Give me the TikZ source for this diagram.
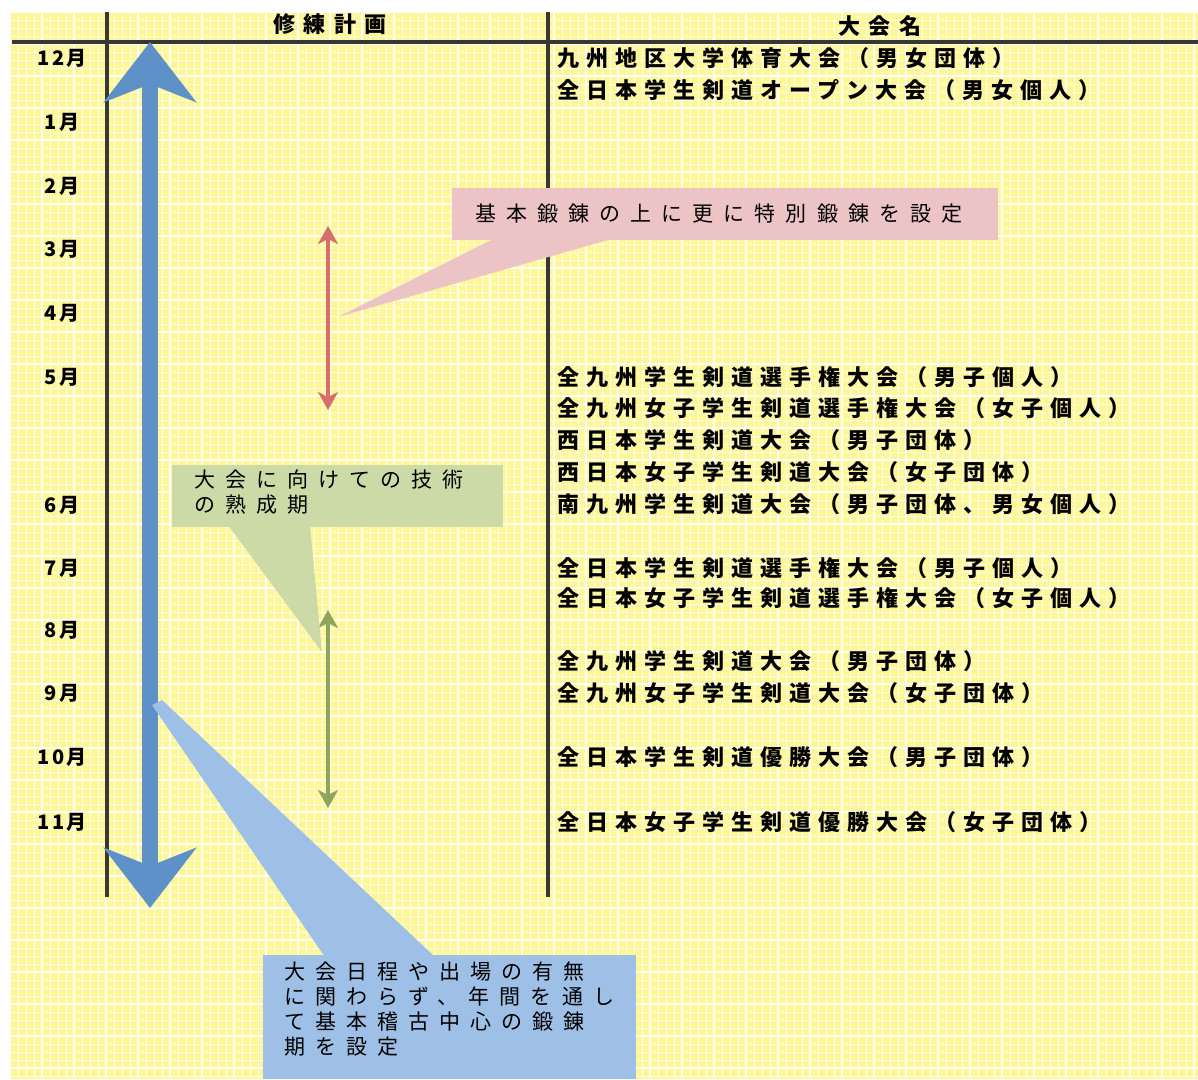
\documentclass[tikz,border=0pt]{standalone}
\usepackage{fontspec}
\setmainfont{Noto Sans CJK JP}
\usetikzlibrary{arrows.meta}
\definecolor{bgyellow}{RGB}{255,246,150}
\definecolor{barblue}{RGB}{94,145,199}
\definecolor{calblue}{RGB}{158,192,230}
\definecolor{calpink}{RGB}{236,196,198}
\definecolor{calgreen}{RGB}{204,218,168}
\definecolor{arrred}{RGB}{214,110,108}
\definecolor{arrgreen}{RGB}{143,164,92}
\definecolor{rule}{RGB}{55,55,55}
\tikzset{
  month/.style={font=\bfseries\fontsize{20}{20}\selectfont\addfontfeatures{LetterSpace=10}, anchor=center, inner sep=0pt},
  event/.style={font=\bfseries\fontsize{22}{22}\selectfont\addfontfeatures{LetterSpace=32}, anchor=west, inner sep=0pt},
  head/.style={font=\bfseries\fontsize{22}{22}\selectfont\addfontfeatures{LetterSpace=38}, anchor=center, inner sep=0pt},
  callout/.style={font=\fontsize{21}{25}\selectfont\addfontfeatures{LetterSpace=48}, align=left, inner sep=0pt, anchor=north west},
  tablerule/.style={draw=rule, line width=3.5pt},
  thinarrow/.style={line width=3.5pt, {Stealth[width=20pt,length=18pt,inset=5pt]}-{Stealth[width=20pt,length=18pt,inset=5pt]}}
}
\begin{document}
\begin{tikzpicture}[x=1pt,y=-1pt]
\useasboundingbox (0,0) rectangle (1198,1079);
\fill[white] (0,0) rectangle (1198,1079);
% background with grid
\fill[bgyellow] (10,12) rectangle (1198,1079);
\begin{scope}
\clip (10,12) rectangle (1198,1079);
\foreach \i in {0,...,150} {
  \draw[white, line width=0.5pt, opacity=0.8] (10+8*\i,12) -- (10+8*\i,1079);
}
\foreach \i in {0,...,134} {
  \draw[white, line width=0.5pt, opacity=0.8] (10,12+8*\i) -- (1198,12+8*\i);
}
\foreach \i in {0,...,38} {
  \draw[white, line width=1.4pt] (10+32*\i,12) -- (10+32*\i,1079);
}
\foreach \i in {0,...,34} {
  \draw[white, line width=1.4pt] (10,12+32*\i) -- (1198,12+32*\i);
}
\end{scope}

% table rules
\coordinate (hl) at (12,42);
\coordinate (hr) at (1198,42);
\coordinate (v1t) at (107,12);
\coordinate (v1b) at (107,897);
\coordinate (v2t) at (548,12);
\coordinate (v2b) at (548,897);
\draw[tablerule] (v1t) -- (v1b);
\draw[tablerule] (v2t) -- (v2b);
\draw[tablerule, line width=4.5pt] (hl) -- (hr);

% headers
\node[head] (h1) at (330,24) {修練計画};
\node[head] (h2) at (880,26) {大会名};

% months
\node[month] (m12) at (62,58) {12月};
\node[month] (m1) at (62,122) {1月};
\node[month] (m2) at (62,186) {2月};
\node[month] (m3) at (62,249) {3月};
\node[month] (m4) at (62,313) {4月};
\node[month] (m5) at (62,377) {5月};
\node[month] (m6) at (62,505) {6月};
\node[month] (m7) at (62,568) {7月};
\node[month] (m8) at (62,630) {8月};
\node[month] (m9) at (62,693) {9月};
\node[month] (m10) at (62,757) {10月};
\node[month] (m11) at (62,822) {11月};

% events
\node[event] (e1) at (557,58) {九州地区大学体育大会（男女団体）};
\node[event] (e2) at (557,90) {全日本学生剣道オープン大会（男女個人）};
\node[event] (e3) at (557,377) {全九州学生剣道選手権大会（男子個人）};
\node[event] (e4) at (557,408) {全九州女子学生剣道選手権大会（女子個人）};
\node[event] (e5) at (557,440) {西日本学生剣道大会（男子団体）};
\node[event] (e6) at (557,472) {西日本女子学生剣道大会（女子団体）};
\node[event] (e7) at (557,504) {南九州学生剣道大会（男子団体、男女個人）};
\node[event] (e8) at (557,568) {全日本学生剣道選手権大会（男子個人）};
\node[event] (e9) at (557,598) {全日本女子学生剣道選手権大会（女子個人）};
\node[event] (e10) at (557,661) {全九州学生剣道大会（男子団体）};
\node[event] (e11) at (557,693) {全九州女子学生剣道大会（女子団体）};
\node[event] (e12) at (557,757) {全日本学生剣道優勝大会（男子団体）};
\node[event] (e13) at (557,822) {全日本女子学生剣道優勝大会（女子団体）};

% big blue arrow
\coordinate (bt) at (150,42);
\coordinate (bb) at (150,908);
\draw[barblue, line width=16pt, {Stealth[width=92pt,length=60pt,inset=18pt]}-{Stealth[width=92pt,length=60pt,inset=18pt]}] (bt) -- (bb);

% red and green arrows
\coordinate (rt) at (328,226);
\coordinate (rb) at (328,410);
\draw[arrred, thinarrow] (rt) -- (rb);
\coordinate (gt) at (328,610);
\coordinate (gb) at (328,808);
\draw[arrgreen, thinarrow] (gt) -- (gb);

% pink callout
\coordinate (pp) at (338,317);
\fill[calpink] (495,238) -- (pp) -- (615,238) -- cycle;
\node[fill=calpink, minimum width=546pt, minimum height=52pt, inner sep=0pt] (pbox) at (725,214) {};
\node[callout, anchor=west] (ptext) at (475,214) {基本鍛錬の上に更に特別鍛錬を設定};

% green callout
\coordinate (gp) at (322,652);
\fill[calgreen] (228,525) -- (gp) -- (310,525) -- cycle;
\node[fill=calgreen, minimum width=331pt, minimum height=62pt, inner sep=0pt] (gbox) at (337.5,496) {};
\node[callout] (gtext) at (194,470) {大会に向けての技術\\の熟成期};

% blue callout
\coordinate (bp) at (152,705);
\fill[calblue] (325,957) -- (bp) -- (162,700) -- (435,957) -- cycle;
\node[fill=calblue, minimum width=373pt, minimum height=124pt, inner sep=0pt] (bbox) at (449.5,1017) {};
\node[callout] (btext) at (284,962) {大会日程や出場の有無\\に関わらず、年間を通し\\て基本稽古中心の鍛錬\\期を設定};
\end{tikzpicture}
\end{document}
